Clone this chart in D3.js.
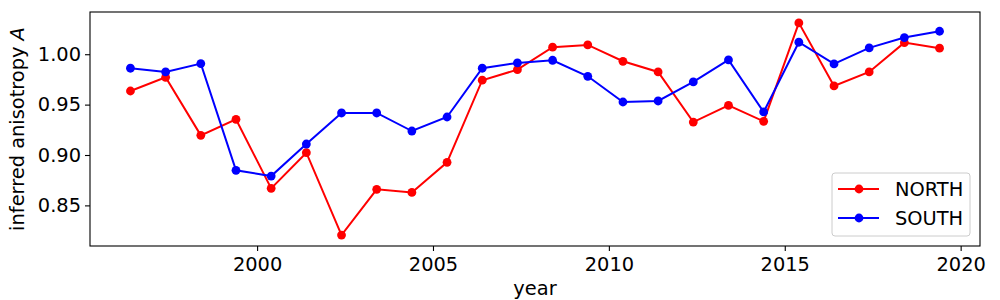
<!DOCTYPE html>
<html>
<head>
<meta charset="utf-8">
<script src="https://cdn.jsdelivr.net/npm/d3@7"></script>
<style>
  body { margin: 0; background: #fff; }
  text { font-family: "DejaVu Sans", sans-serif; }
</style>
</head>
<body>
<svg width="1000" height="300"></svg>
<script>
// data
var years = [1996.4, 1997.4, 1998.4, 1999.4, 2000.4, 2001.4, 2002.4, 2003.4, 2004.4, 2005.4,
             2006.4, 2007.4, 2008.4, 2009.4, 2010.4, 2011.4, 2012.4, 2013.4, 2014.4, 2015.4,
             2016.4, 2017.4, 2018.4, 2019.4];
var north = [0.9635, 0.9771, 0.9195, 0.9354, 0.8669, 0.9023, 0.8205, 0.8659, 0.8629, 0.8927,
             0.9742, 0.9847, 1.0070, 1.0092, 0.9930, 0.9824, 0.9327, 0.9493, 0.9334, 1.0311,
             0.9685, 0.9824, 1.0115, 1.0060];
var south = [0.9861, 0.9824, 0.9907, 0.8848, 0.8791, 0.9109, 0.9417, 0.9417, 0.9238, 0.9377,
             0.9861, 0.9914, 0.9940, 0.9781, 0.9526, 0.9536, 0.9725, 0.9943, 0.9427, 1.0119,
             0.9904, 1.0063, 1.0165, 1.0228];
var xTicks = [2000, 2005, 2010, 2015, 2020];
var yTicks = [0.85, 0.90, 0.95, 1.00];

var series = [
  { name: "NORTH", color: "#ff0000", values: north },
  { name: "SOUTH", color: "#0000ff", values: south }
];

var fs = 19.4;

var svg = d3.select("svg"),
    margin = { left: 90, top: 12, right: 20, bottom: 54 },
    width = 1000 - margin.left - margin.right,
    height = 300 - margin.top - margin.bottom;

var g = svg.append("g")
    .attr("transform", "translate(" + margin.left + "," + margin.top + ")");

var x = d3.scaleLinear().domain([1995.25, 2020.55]).range([0, width]);
var y = d3.scaleLinear().domain([0.8097, 1.0419]).range([height, 0]);

var xAxis = g.append("g")
    .attr("transform", "translate(0," + height + ")")
    .call(d3.axisBottom(x).tickValues(xTicks).tickFormat(d3.format("d")).tickSize(5).tickPadding(4));

var yAxis = g.append("g")
    .call(d3.axisLeft(y).tickValues(yTicks).tickFormat(d3.format(".2f")).tickSize(5).tickPadding(4));

[xAxis, yAxis].forEach(function(a) {
  a.select(".domain").remove();
  a.selectAll("line").attr("stroke", "#000").attr("stroke-width", 1.1);
  a.selectAll("text").attr("font-size", fs).attr("fill", "#000")
    .style("font-family", "DejaVu Sans, sans-serif");
});
xAxis.selectAll("text").attr("dy", "0.85em");

var line = d3.line()
    .x(function(d, i) { return x(years[i]); })
    .y(function(d) { return y(d); });

series.forEach(function(s) {
  g.append("path")
      .datum(s.values)
      .attr("fill", "none")
      .attr("stroke", s.color)
      .attr("stroke-width", 2)
      .attr("d", line);
  g.selectAll(".pt-" + s.name)
      .data(s.values)
      .enter().append("circle")
      .attr("cx", function(d, i) { return x(years[i]); })
      .attr("cy", function(d) { return y(d); })
      .attr("r", 4.4)
      .attr("fill", s.color);
});

// frame
g.append("rect")
    .attr("width", width).attr("height", height)
    .attr("fill", "none").attr("stroke", "#000").attr("stroke-width", 1.1);

// axis labels
svg.append("text")
    .attr("x", margin.left + width / 2)
    .attr("y", 295)
    .attr("text-anchor", "middle")
    .attr("font-size", fs)
    .text("year");

var yl = svg.append("text")
    .attr("transform", "translate(24," + (margin.top + height / 2) + ") rotate(-90)")
    .attr("text-anchor", "middle")
    .attr("font-size", fs);
yl.append("tspan").text("inferred anisotropy ");
yl.append("tspan").attr("font-style", "italic").text("A");

// legend
var lg = svg.append("g").attr("transform", "translate(832,173)");
lg.append("rect")
    .attr("width", 138).attr("height", 63).attr("rx", 3)
    .attr("fill", "#fff").attr("fill-opacity", 0.8)
    .attr("stroke", "#ccc").attr("stroke-width", 1);
series.forEach(function(s, i) {
  var ly = 16 + i * 29;
  lg.append("line")
      .attr("x1", 6).attr("x2", 47).attr("y1", ly).attr("y2", ly)
      .attr("stroke", s.color).attr("stroke-width", 2);
  lg.append("circle").attr("cx", 27).attr("cy", ly).attr("r", 4.4).attr("fill", s.color);
  lg.append("text")
      .attr("x", 63).attr("y", ly).attr("dy", "0.35em")
      .attr("font-size", fs)
      .text(s.name);
});
</script>
</body>
</html>
